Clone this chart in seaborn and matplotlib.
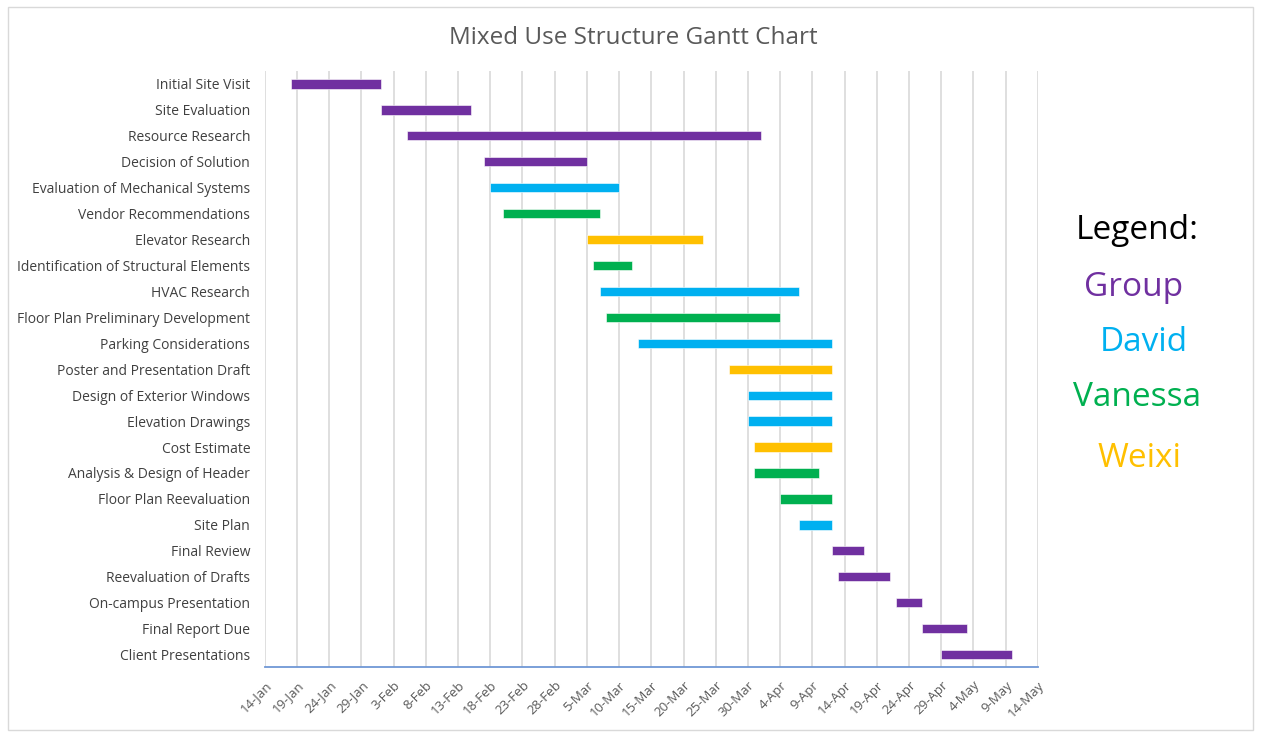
import numpy as np
import pandas as pd
import seaborn as sns
import matplotlib
matplotlib.use("Agg")
import matplotlib.pyplot as plt
import matplotlib.dates as mdates
from matplotlib.patches import Rectangle

sns.set_theme(style="white")
plt.rcParams['font.family'] = ['Open Sans', 'DejaVu Sans']

# task data (year assumed non-leap)
tasks = ["Initial Site Visit", "Site Evaluation", "Resource Research", "Decision of Solution",
         "Evaluation of Mechanical Systems", "Vendor Recommendations", "Elevator Research",
         "Identification of Structural Elements", "HVAC Research",
         "Floor Plan Preliminary Development", "Parking Considerations",
         "Poster and Presentation Draft", "Design of Exterior Windows", "Elevation Drawings",
         "Cost Estimate", "Analysis & Design of Header", "Floor Plan Reevaluation",
         "Site Plan", "Final Review", "Reevaluation of Drafts", "On-campus Presentation",
         "Final Report Due", "Client Presentations"]
starts = ["2018-01-18", "2018-02-01", "2018-02-05", "2018-02-17", "2018-02-18", "2018-02-20",
          "2018-03-05", "2018-03-06", "2018-03-07", "2018-03-08", "2018-03-13", "2018-03-27",
          "2018-03-30", "2018-03-30", "2018-03-31", "2018-03-31", "2018-04-04", "2018-04-07",
          "2018-04-12", "2018-04-13", "2018-04-22", "2018-04-26", "2018-04-29"]
ends = ["2018-02-01", "2018-02-15", "2018-04-01", "2018-03-05", "2018-03-10", "2018-03-07",
        "2018-03-23", "2018-03-12", "2018-04-07", "2018-04-04", "2018-04-12", "2018-04-12",
        "2018-04-12", "2018-04-12", "2018-04-12", "2018-04-10", "2018-04-12", "2018-04-12",
        "2018-04-17", "2018-04-21", "2018-04-26", "2018-05-03", "2018-05-10"]
owners = ["Group", "Group", "Group", "Group", "David", "Vanessa", "Weixi", "Vanessa", "David",
          "Vanessa", "David", "Weixi", "David", "David", "Weixi", "Vanessa", "Vanessa", "David",
          "Group", "Group", "Group", "Group", "Group"]

people = ["Group", "David", "Vanessa", "Weixi"]
palette = {"Group": "#7030A0", "David": "#00B0F0", "Vanessa": "#00B050", "Weixi": "#FFC000"}

df = pd.DataFrame({"task": tasks, "start": pd.to_datetime(starts),
                   "end": pd.to_datetime(ends), "owner": owners})
df["s"] = mdates.date2num(df["start"])
df["dur"] = mdates.date2num(df["end"]) - df["s"]

fig = plt.figure(figsize=(12.61, 7.34), dpi=100)
ax = fig.add_axes([0.210, 0.0906, 0.613, 0.8127])

ypos = np.arange(len(df))
ax.barh(ypos, df["dur"], left=df["s"], height=0.36,
        color=[palette[o] for o in df["owner"]], edgecolor="white", linewidth=0.4, zorder=3)

ax.set_yticks(ypos)
ax.set_yticklabels(df["task"], fontsize=10, color="#404040")
ax.set_ylim(len(df) - 0.5, -0.5)

x0 = mdates.date2num(pd.Timestamp("2018-01-14"))
x1 = mdates.date2num(pd.Timestamp("2018-05-14"))
ax.set_xlim(x0, x1)
ax.set_xticks(np.arange(x0, x1 + 1, 5))
ax.xaxis.set_major_formatter(mdates.DateFormatter("%-d-%b"))
plt.setp(ax.get_xticklabels(), rotation=45, ha="right", rotation_mode="anchor",
         fontsize=9.5, color="#595959")
ax.tick_params(axis="both", length=0)
ax.tick_params(axis="y", pad=10.5)
ax.tick_params(axis="x", pad=8)

ax.grid(axis="x", color="#D9D9D9", linewidth=1.2, zorder=0)
ax.grid(axis="y", visible=False)
for sp in ["top", "right", "left"]:
    ax.spines[sp].set_visible(False)
ax.spines["bottom"].set_color("#6F97D6")
ax.spines["bottom"].set_linewidth(1.3)

fig.text(0.502, 0.948, "Mixed Use Structure Gantt Chart", ha="center", va="center",
         fontsize=17.5, color="#595959")

# legend as coloured words
fig.text(0.902, 0.686, "Legend:", ha="center", va="center", fontsize=24, color="black")
legend_y = [0.608, 0.533, 0.459, 0.376]
legend_x = [0.899, 0.907, 0.902, 0.904]
for p, lx, ly in zip(people, legend_x, legend_y):
    fig.text(lx, ly, p, ha="center", va="center", fontsize=24, color=palette[p])

fig.patches.append(Rectangle((0.006, 0.006), 0.988, 0.984, transform=fig.transFigure,
                             fill=False, edgecolor="#D9D9D9", linewidth=1))

fig.savefig("out.png", dpi=100)
